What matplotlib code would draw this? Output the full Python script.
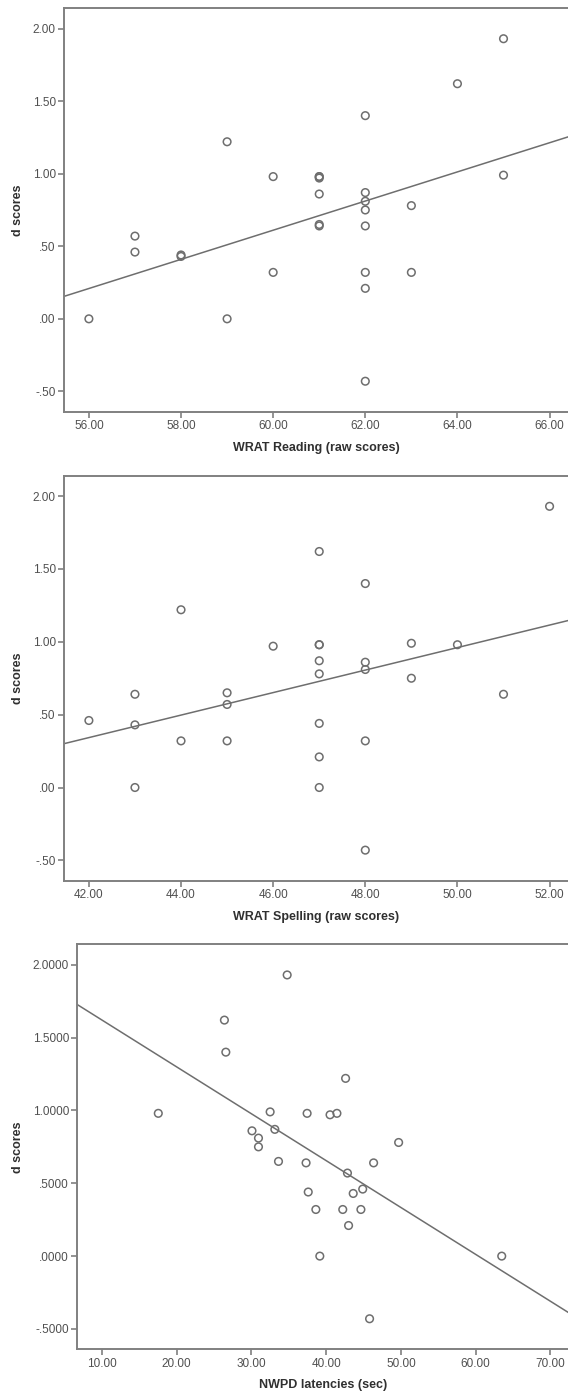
import numpy as np
import matplotlib
matplotlib.use("Agg")
import matplotlib.pyplot as plt
from matplotlib.ticker import FuncFormatter

plt.rcParams['font.family'] = ['Liberation Sans', 'DejaVu Sans']

# d scores per participant, paired with each predictor
reading = [56, 57, 57, 58, 58, 59, 59, 60, 60, 61, 61, 61, 61, 61, 61,
           62, 62, 62, 62, 62, 62, 62, 62, 63, 63, 64, 65, 65]
reading_d = [0.00, 0.57, 0.46, 0.44, 0.43, 1.22, 0.00, 0.98, 0.32, 0.98, 0.98, 0.97, 0.86, 0.65, 0.64,
             1.40, 0.87, 0.81, 0.75, 0.64, 0.32, 0.21, -0.43, 0.78, 0.32, 1.62, 1.93, 0.99]

spelling = [42, 43, 43, 43, 44, 44, 45, 45, 45, 46, 47, 47, 47, 47, 47, 47, 47, 47,
            48, 48, 48, 48, 48, 49, 49, 50, 51, 52]
spelling_d = [0.46, 0.64, 0.43, 0.00, 1.22, 0.32, 0.65, 0.57, 0.32, 0.97, 1.62, 0.98, 0.98, 0.87, 0.78, 0.44, 0.21, 0.00,
              1.40, 0.86, 0.81, 0.32, -0.43, 0.99, 0.75, 0.98, 0.64, 1.93]

nwpd = [17.53, 26.38, 26.57, 34.78, 32.50, 30.07, 30.94, 30.94, 33.13, 33.62, 37.45, 37.31, 37.60, 38.62,
        39.15, 40.52, 41.44, 42.60, 42.85, 42.22, 43.00, 43.62, 44.89, 44.65, 45.81, 46.35, 49.70, 63.50]
nwpd_d = [0.98, 1.62, 1.40, 1.93, 0.99, 0.86, 0.81, 0.75, 0.87, 0.65, 0.98, 0.64, 0.44, 0.32,
          0.00, 0.97, 0.98, 1.22, 0.57, 0.32, 0.21, 0.43, 0.46, 0.32, -0.43, 0.64, 0.78, 0.00]

xlabels = ['WRAT Reading (raw scores)', 'WRAT Spelling (raw scores)', 'NWPD latencies (sec)']
xticks = [np.arange(56, 67, 2), np.arange(42, 53, 2), np.arange(10, 71, 10)]
xlims = [(55.46, 66.40), (41.46, 52.40), (6.69, 72.37)]
ydec = [2, 2, 4]

GRAY = '#6e6e6e'
TXT = '#505050'


def spss_fmt(dec):
    # SPSS style: no leading zero, e.g. ".50", "-.50"
    def f(v, pos):
        s = f"{v:.{dec}f}"
        if s.startswith('-0.'):
            s = '-' + s[2:]
        elif s.startswith('0.'):
            s = s[1:]
        return s
    return FuncFormatter(f)


fig = plt.figure(figsize=(5.68, 13.98), dpi=100)
boxes = [[0.1127, 0.7055, 0.8873, 0.2886],
         [0.1127, 0.3700, 0.8873, 0.2897],
         [0.1361, 0.0348, 0.8639, 0.2897]]
data = [(reading, reading_d), (spelling, spelling_d), (nwpd, nwpd_d)]

for i, (xs, ys) in enumerate(data):
    ax = fig.add_axes(boxes[i])
    xs = np.array(xs)
    ys = np.array(ys)
    ax.scatter(xs, ys, s=30, facecolors='none', edgecolors=GRAY, linewidths=1.1, zorder=3)

    # linear fit line across the whole axis
    b, a = np.polyfit(xs, ys, 1)
    lx = np.array(xlims[i])
    ax.plot(lx, a + b * lx, color=GRAY, lw=1.1, zorder=2)

    ax.set_xlim(*xlims[i])
    ax.set_ylim(-0.64, 2.14)
    ax.set_xticks(xticks[i])
    ax.set_yticks(np.arange(-0.5, 2.01, 0.5))
    ax.xaxis.set_major_formatter(spss_fmt(2))
    ax.yaxis.set_major_formatter(spss_fmt(ydec[i]))

    for side in ['left', 'bottom', 'top']:
        ax.spines[side].set_color('#808080')
        ax.spines[side].set_linewidth(1.4)
    ax.spines['right'].set_visible(False)

    ax.tick_params(direction='out', length=4, width=1.2, color='#808080',
                   labelsize=8.5, labelcolor=TXT, pad=2)
    ax.set_xlabel(xlabels[i], fontsize=9, fontweight='bold', color='#303030', labelpad=7)
    ax.set_ylabel('d scores', fontsize=9, fontweight='bold', color='#303030', labelpad=6)

fig.savefig('out.png', dpi=100)
